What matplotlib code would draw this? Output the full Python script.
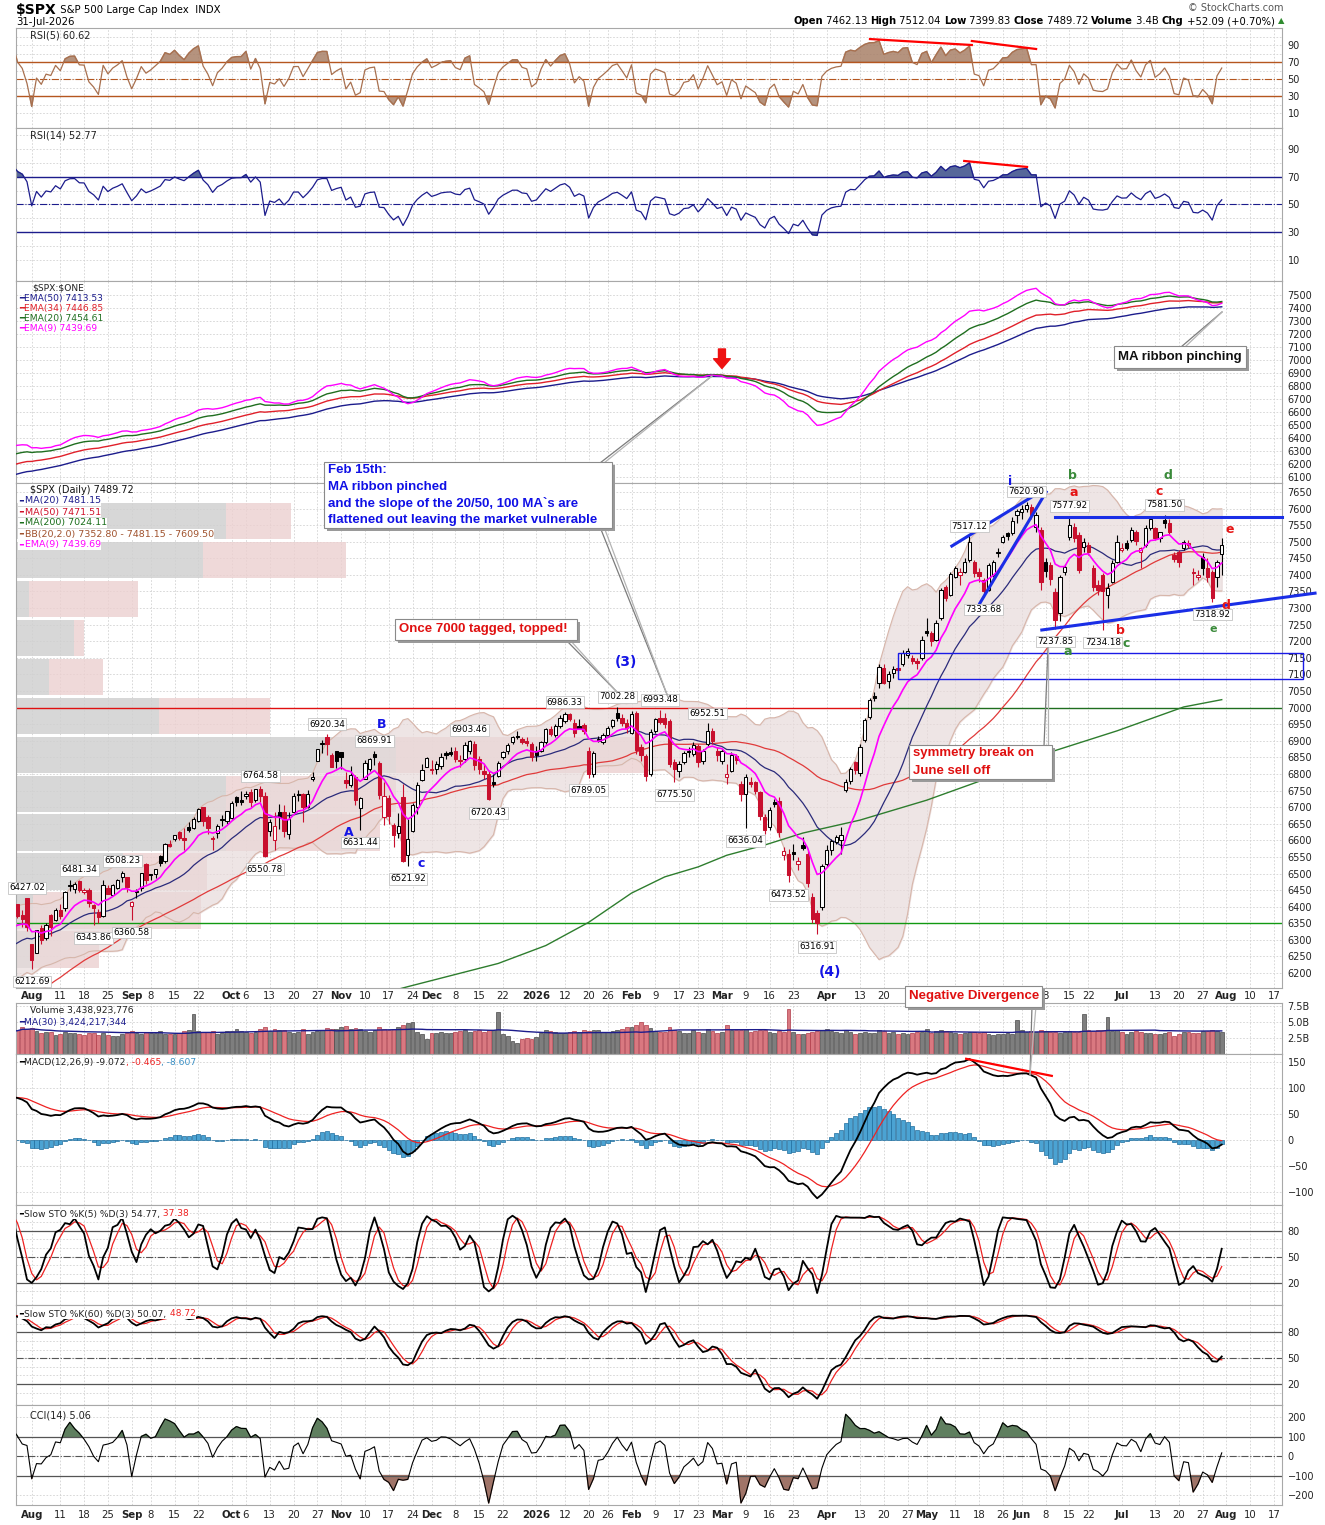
import numpy as np
import pandas as pd
import matplotlib
matplotlib.use("Agg")
import matplotlib.pyplot as plt
from matplotlib.patches import Rectangle
from matplotlib.lines import Line2D
import matplotlib.transforms as mtransforms

plt.rcParams['font.family'] = ['DejaVu Sans']

# Data -------------------------------------------------------------
HOLIDAYS = ['2025-09-01', '2025-11-27', '2025-12-25', '2026-01-01', '2026-01-19',
            '2026-02-16', '2026-04-03', '2026-05-25', '2026-06-19', '2026-07-03']

# closes before the visible window (May 1 - Jul 25 2025), only used to warm up the indicators
pre_close = [5604, 5686, 5650, 5607, 5631, 5664, 5660, 5844, 5886, 5892, 5916, 5958, 5963, 5940,
             5845, 5842, 5802, 5922, 5889, 5912, 5912, 5936, 5970, 5971, 5939, 6000, 6006, 6038,
             6022, 6045, 5977, 6033, 5983, 5981, 5967, 6025, 6092, 6092, 6141, 6173, 6205, 6198,
             6227, 6279, 6230, 6226, 6263, 6280, 6260, 6269, 6244, 6264, 6297, 6297, 6306, 6309,
             6359, 6363, 6389]

# daily (open, high, low, close)
jul25 = [(6397, 6401, 6375, 6389.8), (6409, 6409.3, 6365, 6370.9), (6374, 6389, 6338, 6362.9),
         (6427, 6427.02, 6327, 6339.4)]
aug25 = [(6287, 6288, 6212.69, 6238.0), (6261, 6330, 6261, 6329.9), (6336, 6346, 6289, 6299.2),
         (6305, 6352, 6301, 6345.1), (6375, 6379, 6312, 6340.0), (6359, 6395, 6357, 6389.5),
         (6389, 6409, 6364, 6373.5), (6397, 6446, 6386, 6445.8), (6463, 6480, 6446, 6466.6),
         (6453, 6473, 6441, 6468.5), (6478, 6481.34, 6445, 6449.8), (6445, 6455, 6437, 6449.2),
         (6449, 6456, 6400, 6411.4), (6405, 6407, 6343.86, 6395.8), (6385, 6394, 6352, 6370.2),
         (6373, 6479, 6370, 6466.9), (6457, 6466, 6438, 6439.3), (6436, 6468, 6435, 6465.9),
         (6456, 6483, 6454, 6481.4), (6489, 6508.23, 6474, 6501.9), (6491, 6491, 6444, 6460.3)]
sep25 = [(6401, 6417, 6360.58, 6415.5), (6445, 6454, 6425, 6448.3), (6456, 6502, 6446, 6502.1),
         (6530, 6532, 6469, 6481.5), (6498, 6500, 6480, 6495.2), (6500, 6513, 6486, 6512.6),
         (6553, 6555, 6523, 6532.0), (6537, 6592, 6533, 6587.5), (6590, 6601, 6579, 6584.3),
         (6603, 6616, 6598, 6615.3), (6624, 6627, 6601, 6606.8), (6608, 6638, 6570, 6600.4),
         (6641, 6656, 6624, 6632.0), (6637, 6671, 6635, 6664.4), (6657, 6699, 6656, 6693.8),
         (6700, 6700, 6642, 6656.9), (6670, 6676, 6620, 6638.0), (6606, 6613, 6570, 6604.7),
         (6621, 6650, 6608, 6643.7), (6662, 6675, 6642, 6661.2), (6658, 6689, 6648, 6688.5)]
oct25 = [(6668, 6718, 6664, 6711.2), (6731, 6734, 6703, 6715.4), (6722, 6750, 6708, 6715.8),
         (6734, 6749, 6725, 6740.3), (6747, 6755, 6700, 6714.6), (6722, 6754, 6715, 6753.7),
         (6755, 6764.58, 6717, 6735.1), (6735, 6745, 6550.78, 6552.5), (6627, 6664, 6614, 6654.7),
         (6601, 6685, 6570, 6644.3), (6686, 6710, 6633, 6671.1), (6686, 6708, 6610, 6629.1),
         (6620, 6686, 6603, 6664.0), (6686, 6744, 6681, 6735.1), (6736, 6752, 6719, 6735.4),
         (6740, 6744, 6654, 6699.4), (6701, 6751, 6697, 6738.4), (6786, 6807, 6779, 6791.7),
         (6839, 6875, 6838, 6875.2), (6890, 6901, 6863, 6890.9), (6910, 6920.34, 6857, 6890.6),
         (6857, 6863, 6821, 6822.3), (6868, 6870, 6817, 6840.2)]
nov25 = [(6865, 6866, 6816, 6852.0), (6782, 6805, 6758, 6771.6), (6766, 6824, 6762, 6796.3),
         (6792, 6796, 6708, 6720.3), (6699, 6731, 6631.44, 6728.8), (6785, 6843, 6785, 6832.4),
         (6815, 6849, 6808, 6846.6), (6861, 6869.91, 6826, 6850.9), (6833, 6838, 6724, 6737.5),
         (6670, 6775, 6646, 6734.1), (6728, 6737, 6650, 6672.4), (6646, 6652, 6581, 6617.3),
         (6623, 6683, 6607, 6642.2), (6731, 6771, 6535, 6538.8), (6555, 6664, 6521.92, 6603.0),
         (6629, 6714, 6626, 6705.1), (6700, 6777, 6678, 6765.9), (6782, 6829, 6780, 6812.6),
         (6822, 6850, 6822, 6849.1)]
dec25 = [(6812, 6843, 6800, 6812.6), (6815, 6840, 6800, 6829), (6825, 6862, 6815, 6850),
         (6862, 6868, 6845, 6857), (6866, 6880, 6855, 6860), (6870, 6880, 6835, 6846),
         (6838, 6858, 6820, 6842), (6845, 6895, 6835, 6886), (6870, 6903.46, 6860, 6898),
         (6890, 6900, 6812, 6828), (6845, 6855, 6800, 6815), (6810, 6830, 6785, 6800),
         (6800, 6810, 6720.43, 6725), (6775, 6800, 6760, 6770), (6795, 6840, 6790, 6834),
         (6850, 6870, 6845, 6866), (6868, 6892, 6860, 6888), (6895, 6915, 6890, 6910),
         (6912, 6930, 6905, 6910), (6905, 6912, 6890, 6895), (6900, 6910, 6885, 6892),
         (6890, 6895, 6840, 6850)]
jan26 = [(6870, 6885, 6840, 6858), (6870, 6900, 6865, 6895), (6895, 6940, 6890, 6935),
         (6935, 6945, 6915, 6922), (6918, 6950, 6910, 6945), (6945, 6978, 6940, 6970),
         (6960, 6986.33, 6955, 6980), (6982, 6985, 6960, 6965), (6955, 6965, 6910, 6925),
         (6945, 6965, 6935, 6940), (6948, 6955, 6920, 6930), (6870, 6880, 6789.05, 6800),
         (6800, 6870, 6790, 6862), (6905, 6915, 6895, 6900), (6895, 6925, 6890, 6918),
         (6918, 6945, 6910, 6938), (6945, 6965, 6940, 6962), (6985, 7002.28, 6960, 6970),
         (6968, 6980, 6945, 6955), (6955, 6965, 6925, 6938)]
feb26 = [(6925, 6990, 6920, 6982), (6985, 6990, 6860, 6872), (6880, 6890, 6840, 6858),
         (6855, 6860, 6780, 6795), (6800, 6935, 6795, 6928), (6930, 6970, 6925, 6965),
         (6970, 6993.48, 6950, 6958), (6968, 6985, 6940, 6950), (6960, 6965, 6820, 6830),
         (6835, 6845, 6775.50, 6815), (6810, 6840, 6790, 6830), (6835, 6870, 6830, 6862),
         (6870, 6880, 6850, 6866), (6860, 6895, 6855, 6888), (6885, 6890, 6820, 6835),
         (6840, 6875, 6830, 6870), (6890, 6952.51, 6885, 6930), (6930, 6940, 6890, 6898),
         (6870, 6880, 6840, 6858)]
mar26 = [(6840, 6875, 6830, 6868), (6790, 6830, 6770, 6800), (6810, 6865, 6805, 6858),
         (6855, 6860, 6830, 6842), (6770, 6780, 6720, 6740), (6740, 6800, 6636.04, 6792),
         (6775, 6790, 6760, 6770), (6775, 6780, 6740, 6750), (6745, 6750, 6660, 6672),
         (6670, 6680, 6620, 6632), (6640, 6700, 6630, 6692), (6715, 6725, 6700, 6710),
         (6720, 6730, 6610, 6625), (6555, 6580, 6540, 6568), (6560, 6575, 6473.52, 6495),
         (6565, 6590, 6540, 6560), (6530, 6550, 6510, 6538), (6585, 6610, 6570, 6578),
         (6560, 6570, 6460, 6472), (6430, 6440, 6350, 6362), (6380, 6390, 6316.91, 6350),
         (6400, 6530, 6390, 6522)]
apr26 = [(6530, 6585, 6520, 6572), (6570, 6605, 6555, 6598), (6595, 6615, 6590, 6610),
         (6600, 6640, 6560, 6615), (6752, 6785, 6745, 6777), (6778, 6820, 6770, 6815),
         (6835, 6840, 6800, 6812), (6803, 6890, 6795, 6880), (6902, 6970, 6895, 6963),
         (6972, 7030, 6965, 7023), (7035, 7048, 7020, 7030), (7074, 7130, 7060, 7122),
         (7118, 7130, 7070, 7075), (7080, 7110, 7060, 7100), (7105, 7125, 7090, 7115),
         (7120, 7130, 7100, 7112), (7130, 7175, 7125, 7165), (7160, 7180, 7150, 7172),
         (7150, 7160, 7130, 7140), (7140, 7150, 7115, 7135), (7150, 7215, 7145, 7205)]
may26 = [(7230, 7270, 7215, 7225), (7225, 7230, 7185, 7200), (7205, 7265, 7200, 7255),
         (7270, 7360, 7265, 7355), (7365, 7370, 7320, 7330), (7340, 7410, 7335, 7402),
         (7395, 7428, 7390, 7420), (7400, 7420, 7370, 7410), (7410, 7450, 7405, 7440),
         (7445, 7517.12, 7440, 7500), (7440, 7445, 7395, 7405), (7410, 7420, 7380, 7398),
         (7385, 7390, 7333.68, 7350), (7355, 7435, 7350, 7430), (7400, 7445, 7395, 7440),
         (7465, 7480, 7455, 7470), (7500, 7520, 7495, 7515), (7525, 7530, 7505, 7518),
         (7525, 7575, 7520, 7562), (7580, 7600, 7555, 7592)]
jun26 = [(7590, 7610, 7570, 7600), (7598, 7620.90, 7590, 7610), (7605, 7615, 7570, 7580),
         (7545, 7590, 7530, 7580), (7535, 7545, 7355, 7380), (7440, 7450, 7395, 7412),
         (7430, 7440, 7370, 7388), (7348, 7360, 7237.85, 7265), (7285, 7400, 7260, 7394),
         (7410, 7432, 7400, 7425), (7515, 7577.92, 7505, 7550), (7545, 7555, 7500, 7510),
         (7520, 7530, 7405, 7415), (7485, 7510, 7470, 7500), (7490, 7500, 7460, 7470),
         (7420, 7430, 7350, 7365), (7370, 7385, 7340, 7355), (7400, 7405, 7234.18, 7352),
         (7340, 7375, 7300, 7362), (7380, 7445, 7375, 7436), (7440, 7520, 7435, 7500)]
jul26 = [(7475, 7495, 7470, 7480), (7495, 7505, 7475, 7482), (7505, 7545, 7500, 7535),
         (7530, 7535, 7490, 7502), (7470, 7485, 7420, 7480), (7490, 7550, 7485, 7541),
         (7540, 7575, 7535, 7570), (7540, 7545, 7505, 7512), (7512, 7530, 7500, 7528),
         (7565, 7581.50, 7540, 7555), (7555, 7570, 7520, 7530), (7460, 7470, 7440, 7448),
         (7470, 7475, 7425, 7440), (7480, 7505, 7475, 7498), (7495, 7505, 7480, 7490),
         (7410, 7420, 7370, 7405), (7395, 7415, 7385, 7400), (7455, 7465, 7400, 7420),
         (7420, 7450, 7380, 7395), (7410, 7415, 7318.92, 7330), (7395, 7445, 7365, 7437.63),
         (7462.13, 7512.04, 7399.83, 7489.72)]

# daily volume, billions of shares
volume_bn = [
    3.6, 3.7, 4.3, 3.9,
    4.1, 3.6, 3.3, 3.4, 3.5, 3.0, 3.2, 3.5, 3.3, 3.3, 3.2, 3.0, 3.3, 3.3, 3.0, 3.3, 3.0, 2.8, 2.9, 3.1, 3.3,
    3.6, 3.3, 3.2, 3.4, 3.3, 3.3, 3.6, 3.2, 3.1, 3.2, 3.3, 3.6, 3.8, 6.2, 3.6, 3.5, 3.4, 3.6, 3.2, 3.3, 3.6,
    3.6, 3.9, 3.6, 3.5, 3.3, 3.5, 3.9, 4.3, 3.6, 3.9, 3.8, 3.8, 3.5, 3.3, 3.4, 3.9, 3.2, 3.4, 3.6, 3.8, 4.1, 3.9, 3.9,
    4.2, 4.4, 4.0, 4.1, 3.9, 3.6, 3.4, 3.7, 4.3, 4.0, 3.8, 3.9, 4.2, 4.5, 4.8, 5.0, 3.5, 3.2, 2.4,
    3.3, 3.3, 3.4, 3.3, 3.3, 3.5, 3.6, 3.8, 3.4, 3.6, 3.7, 3.4, 3.7, 3.7, 6.6, 3.2, 2.9, 2.0, 1.7, 2.3, 2.5, 2.4,
    2.6, 3.3, 3.7, 3.6, 3.5, 3.3, 3.3, 3.4, 3.6, 3.5, 3.8, 3.6, 3.8, 3.7, 3.5, 3.5, 3.6, 3.8, 4.0, 4.3,
    4.2, 4.6, 5.0, 4.6, 4.1, 3.6, 3.4, 3.5, 4.2, 3.7, 3.6, 3.3, 3.3, 3.7, 3.5, 3.3, 3.9, 3.6, 3.3,
    3.5, 4.5, 3.7, 3.8, 3.8, 3.9, 3.5, 3.6, 3.7, 3.8, 3.4, 3.3, 3.6, 3.4, 7.0, 3.4, 3.2, 3.1, 3.3, 3.5, 3.6, 3.8,
    3.9, 3.6, 3.5, 3.3, 3.7, 3.5, 3.2, 3.3, 3.4, 3.3, 3.3, 3.8, 3.6, 3.3, 3.4, 3.2, 3.3, 3.2, 3.3, 3.4, 3.5,
    4.0, 3.3, 3.6, 3.8, 3.6, 3.4, 3.3, 3.2, 3.3, 3.4, 3.5, 3.3, 3.4, 3.2, 3.0, 3.2, 3.2, 3.3, 3.1, 5.4,
    3.8, 3.4, 3.6, 3.5, 3.7, 3.6, 3.5, 3.5, 3.3, 3.4, 3.6, 3.4, 3.5, 6.3, 3.7, 3.6, 3.7, 3.8, 5.8, 3.6, 3.7,
    3.5, 3.2, 3.5, 3.6, 3.4, 3.3, 3.3, 3.1, 3.2, 3.3, 3.5, 2.9, 3.2, 3.4, 3.5, 3.3, 3.3, 3.6, 3.6, 3.7, 3.6, 3.44,
]

# 200-day MA (below the panel before Nov)
ma200_dates = ['2025-11-14', '2025-11-21', '2025-12-19', '2026-01-06', '2026-01-20', '2026-02-02',
               '2026-02-11', '2026-02-23', '2026-03-03', '2026-03-13', '2026-03-25', '2026-04-13',
               '2026-05-01', '2026-05-20', '2026-06-09', '2026-06-30', '2026-07-21', '2026-07-31']
ma200_vals = [6140, 6159, 6229, 6283, 6353, 6441, 6490, 6520, 6555, 6586, 6622, 6661,
              6721, 6788, 6866, 6930, 7002, 7024]

# volume-by-price zones (bottom to top), up / down volume in relative units
vbp_up = [17, 17, 107, 210, 210, 380, 143, 33, 58, 13, 187, 210]
vbp_down = [66, 168, 84, 154, 170, 249, 111, 54, 10, 109, 143, 65]

# labelled swing highs / lows
swing_dates = ['2025-07-31', '2025-08-01', '2025-08-15', '2025-08-20', '2025-08-28', '2025-09-02',
               '2025-10-09', '2025-10-10', '2025-10-29', '2025-11-07', '2025-11-12', '2025-11-21',
               '2025-12-11', '2025-12-17', '2026-01-12', '2026-01-20', '2026-01-28', '2026-02-10',
               '2026-02-13', '2026-02-25', '2026-03-09', '2026-03-20', '2026-03-30', '2026-05-14',
               '2026-05-19', '2026-06-02', '2026-06-10', '2026-06-15', '2026-06-25', '2026-07-15',
               '2026-07-29']
swing_vals = [6427.02, 6212.69, 6481.34, 6343.86, 6508.23, 6360.58, 6764.58, 6550.78, 6920.34,
              6631.44, 6869.91, 6521.92, 6903.46, 6720.43, 6986.33, 6789.05, 7002.28, 6993.48,
              6775.50, 6952.51, 6636.04, 6473.52, 6316.91, 7517.12, 7333.68, 7620.90, 7237.85,
              7577.92, 7234.18, 7581.50, 7318.92]
swing_side = ['hi', 'lo', 'hi', 'lo', 'hi', 'lo', 'hi', 'lo', 'hi', 'lo', 'hi', 'lo', 'hi', 'lo',
              'hi', 'lo', 'hi', 'hi', 'lo', 'hi', 'lo', 'lo', 'lo', 'hi', 'lo', 'hi', 'lo', 'hi',
              'lo', 'hi', 'lo']

sessions = jul25 + aug25 + sep25 + oct25 + nov25 + dec25 + jan26 + feb26 + mar26 + apr26 + may26 + jun26 + jul26
opens = np.array([s[0] for s in sessions], float)
highs = np.array([s[1] for s in sessions], float)
lows = np.array([s[2] for s in sessions], float)
closes = np.array([s[3] for s in sessions], float)
volume = np.array(volume_bn) * 1e9
n = len(sessions)
assert n == 255 and len(volume) == n, (n, len(volume))

days = pd.bdate_range('2025-07-28', '2026-08-21', freq='C', holidays=HOLIDAYS)
assert days[n - 1] == pd.Timestamp('2026-07-31')
day_index = {d.strftime('%Y-%m-%d'): i for i, d in enumerate(days)}

# Indicators -------------------------------------------------------
off = len(pre_close)
fc = pd.Series(pre_close + list(closes))
fh = pd.Series(pre_close + list(highs))
fl = pd.Series(pre_close + list(lows))


def ema(s, span):
    return s.ewm(span=span, adjust=False).mean()


def rsi(s, period):
    d = s.diff()
    up = d.clip(lower=0).ewm(alpha=1 / period, adjust=False).mean()
    dn = (-d.clip(upper=0)).ewm(alpha=1 / period, adjust=False).mean()
    return 100 - 100 / (1 + up / dn)


def slow_sto(period):
    hh = fh.rolling(period, min_periods=1).max()
    ll = fl.rolling(period, min_periods=1).min()
    fast = 100 * (fc - ll) / (hh - ll)
    k = fast.rolling(3, min_periods=1).mean()
    return k, k.rolling(3, min_periods=1).mean()


rsi5 = rsi(fc, 5).values[off:]
rsi14 = rsi(fc, 14).values[off:]
ema9 = ema(fc, 9).values[off:]
ema20 = ema(fc, 20).values[off:]
ema34 = ema(fc, 34).values[off:]
ema50 = ema(fc, 50).values[off:]
ma20 = fc.rolling(20).mean().values[off:]
ma50 = fc.rolling(50).mean().values[off:]
sd20 = fc.rolling(20).std(ddof=0).values[off:]
bb_up, bb_lo = ma20 + 2 * sd20, ma20 - 2 * sd20
macd_line = ema(fc, 12) - ema(fc, 26)
macd_sig = ema(macd_line, 9)
macd_hist = (macd_line - macd_sig).values[off:]
macd_line, macd_sig = macd_line.values[off:], macd_sig.values[off:]
k5, d5 = [a.values[off:] for a in slow_sto(5)]
k60, d60 = [a.values[off:] for a in slow_sto(60)]
tp = (fh + fl + fc) / 3
md = tp.rolling(14).apply(lambda v: np.mean(np.abs(v - v.mean())), raw=True)
cci = ((tp - tp.rolling(14).mean()) / (0.015 * md)).values[off:]
vol_ma30 = pd.Series(volume).rolling(30, min_periods=1).mean().values

x = np.arange(n)
prev_close = np.concatenate([[pre_close[-1]], closes[:-1]])
down_day = closes < prev_close

# Layout -----------------------------------------------------------
W, H = 1325, 1525
L, R = 16, 1282
X0, X1 = 0.69, 266.66
fig = plt.figure(figsize=(W / 100, H / 100), dpi=100)
fig.patch.set_facecolor('white')


def fx(px):
    return px / W


def fy(py):
    return 1 - py / H


def xpix(i):
    return L + (i - X0) / (X1 - X0) * (R - L)


# x labels: month starts and week starts
month_idx = [i for i in range(1, len(days)) if days[i].month != days[i - 1].month]
week_idx = [i for i in range(1, len(days)) if days[i].weekday() < days[i - 1].weekday()]
xlabels = []
for i in sorted(set(month_idx) | set(week_idx)):
    if i < X0 or i > X1:
        continue
    d = days[i]
    if i in month_idx:
        xlabels.append((i, str(d.year) if d.month == 1 else d.strftime('%b'), True))
    elif not any(0 < m - i <= 3 or 0 < i - m <= 2 for m in month_idx):
        xlabels.append((i, str(d.day), False))
grid_idx = [i for i, _, _ in xlabels]

GRID = dict(color='#d2d2d2', lw=0.6, ls=(0, (2, 2)), zorder=0)


def panel(top, bottom, ylim, ticks, labels=None, hgrid=None):
    ax = fig.add_axes([fx(L), fy(bottom), (R - L) / W, (bottom - top) / H])
    ax.set_xlim(X0, X1)
    ax.set_ylim(*ylim)
    ax.set_xticks([])
    ax.yaxis.tick_right()
    ax.set_yticks(ticks)
    if labels is not None:
        ax.set_yticklabels(labels)
    ax.tick_params(axis='y', length=0, pad=4, labelsize=7, colors='#222222')
    for sp in ax.spines.values():
        sp.set_color('#a8a8a8')
        sp.set_linewidth(0.8)
    for g in grid_idx:
        ax.axvline(g, **GRID)
    for t in (hgrid if hgrid is not None else ticks):
        ax.axhline(t, **GRID)
    return ax


def legend(ax, px, py, parts, size=6.6, bg=True):
    s, c = parts[0]
    kw = dict(fontsize=size, va='center', ha='left', zorder=20)
    if bg:
        kw['bbox'] = dict(fc='white', ec='none', pad=0.4)
    t = ax.text(fx(px), fy(py), s, color=c, transform=fig.transFigure, **kw)
    for s, c in parts[1:]:
        t = ax.annotate(s, xy=(1, 0.5), xycoords=t, color=c, **kw)
    return t


NAVY, RED, GREEN, MAG = '#1c1c8c', '#e0202a', '#1f6e1f', '#ff00ff'

# Panel 1: RSI(5) ----------------------------------------------------
ax1 = panel(28, 128, (-7.6, 110), [10, 30, 50, 70, 90], hgrid=[10, 20, 30, 40, 50, 60, 70, 80, 90, 100])
ax1.plot(x, rsi5, color='#a8704f', lw=0.9, zorder=3)
ax1.fill_between(x, 70, rsi5, where=rsi5 > 70, interpolate=True, color='#a88068', alpha=0.85, zorder=2)
ax1.fill_between(x, 30, rsi5, where=rsi5 < 30, interpolate=True, color='#a88068', alpha=0.85, zorder=2)
for lv in (70, 30):
    ax1.axhline(lv, color='#b5561f', lw=1.0, zorder=2)
ax1.axhline(50, color='#b5561f', lw=0.8, ls='-.', zorder=2)
ax1.plot([180.1, 201.5], [97, 90], color='red', lw=1.6, zorder=4)
ax1.plot([201.5, 215], [94.7, 85.3], color='red', lw=1.6, zorder=4)
legend(ax1, 30, 35, [('RSI(5) 60.62', '#222222')], size=7, bg=False)

# Panel 2: RSI(14) ---------------------------------------------------
ax2 = panel(128, 281, (-5, 105), [10, 30, 50, 70, 90], hgrid=[10, 20, 30, 40, 50, 60, 70, 80, 90, 100])
ax2.plot(x, rsi14, color=NAVY, lw=0.9, zorder=3)
ax2.fill_between(x, 70, rsi14, where=rsi14 > 70, interpolate=True, color='#56679a', zorder=2)
ax2.fill_between(x, 30, rsi14, where=rsi14 < 30, interpolate=True, color='#56679a', zorder=2)
for lv in (70, 30):
    ax2.axhline(lv, color=NAVY, lw=1.0, zorder=2)
ax2.axhline(50, color=NAVY, lw=0.8, ls='-.', zorder=2)
ax2.plot([199.9, 213.1], [81.3, 77.0], color='red', lw=1.6, zorder=4)
legend(ax2, 30, 136, [('RSI(14) 52.77', '#222222')], size=7, bg=False)

# Panel 3: EMA ribbon ------------------------------------------------
ax3 = panel(281, 483, (6054, 7608), list(range(6100, 7501, 100)))
ax3.plot(x, ema50, color=NAVY, lw=1.0, zorder=3)
ax3.plot(x, ema34, color=RED, lw=1.0, zorder=3)
ax3.plot(x, ema20, color=GREEN, lw=1.0, zorder=3)
ax3.plot(x, ema9, color=MAG, lw=1.0, zorder=3)
ax3.annotate('', xy=(149, 6935), xytext=(149, 7085),
             arrowprops=dict(facecolor='#ee1111', edgecolor='#ee1111', width=5, headwidth=12, headlength=7))
legend(ax3, 32, 288, [('\\$SPX:\\$ONE', '#222222')], bg=False)
for k, (txt, col) in enumerate([('EMA(50) 7413.53', NAVY), ('EMA(34) 7446.85', RED),
                                ('EMA(20) 7454.61', GREEN), ('EMA(9) 7439.69', MAG)]):
    legend(ax3, 19, 298 + 10 * k, [('━', col), (txt, col)], bg=False)

# Panel 4: price -----------------------------------------------------
ax4 = panel(483, 988, (6155, 7677), list(range(6200, 7651, 50)))
blend = mtransforms.blended_transform_factory(ax4.transAxes, ax4.transData)
pmin, pmax = lows.min(), highs.max()
step = (pmax - pmin) / len(vbp_up)
scale = 1.0 / (R - L)
for k, (u, d) in enumerate(zip(vbp_up, vbp_down)):
    y0 = pmin + k * step + 4
    ax4.add_patch(Rectangle((0, y0), u * scale, step - 8, transform=blend, fc='#d0d0d0', ec='none', alpha=0.85, zorder=1))
    ax4.add_patch(Rectangle((u * scale, y0), d * scale, step - 8, transform=blend, fc='#ecd0d0', ec='none', alpha=0.8, zorder=1))

ax4.fill_between(x, bb_lo, bb_up, color='#e8dada', alpha=0.7, zorder=1.5)
ax4.plot(x, bb_up, color='#d7b6aa', lw=0.8, zorder=1.6)
ax4.plot(x, bb_lo, color='#d7b6aa', lw=0.8, zorder=1.6)
ma200_x = [day_index[d] for d in ma200_dates]
ax4.plot(ma200_x, ma200_vals, color='#2e7d2e', lw=1.0, zorder=3)
ax4.plot(x, ma50, color='#e03a3a', lw=0.9, zorder=3)
ax4.plot(x, ma20, color='#2a2a7a', lw=0.9, zorder=3)
ax4.plot(x, ema9, color=MAG, lw=1.2, zorder=6)

ax4.plot([X0, 180], [7000, 7000], color='#e01010', lw=1.0, zorder=2.5)
ax4.plot([180, X1], [7000, 7000], color='#1f6e1f', lw=1.0, zorder=2.5)
ax4.axhline(6350, color='#119911', lw=1.0, zorder=2.5)

for i in range(n):
    o, h, lo, c = opens[i], highs[i], lows[i], closes[i]
    col = '#c8102e' if down_day[i] else 'black'
    ax4.vlines(i, lo, h, color=col, lw=0.8, zorder=4)
    b0, b1 = min(o, c), max(o, c)
    if b1 - b0 < 3:
        b1 = b0 + 3
    face = 'white' if c >= o else col
    ax4.add_patch(Rectangle((i - 0.35, b0), 0.7, b1 - b0, fc=face, ec=col, lw=0.75, zorder=5))

for d, v, side in zip(swing_dates, swing_vals, swing_side):
    yy = v + 30 if side == 'hi' else v - 38
    ax4.text(day_index[d], yy, f'{v:.2f}', fontsize=6.3, ha='center', va='center', zorder=8,
             bbox=dict(boxstyle='square,pad=0.15', fc='white', ec='#c4c4c4', lw=0.6))

BLUE, WRED, WGREEN = '#1414e6', '#e61414', '#3a8a3a'
trend = dict(color='#1a2ee6', lw=2.2, zorder=7, clip_on=False)
ax4.plot([197.3, 214.1], [7487, 7635], **trend)
ax4.plot([203.2, 217.1], [7315, 7650], **trend)
ax4.plot([219.0, X1], [7575, 7575], **trend)
ax4.plot([216.2, 273.6], [7234, 7345], **trend)
ax4.add_patch(Rectangle((186.0, 7086), 85.0, 79, fc='none', ec='#1a1ae6', lw=1.0, zorder=7, clip_on=False))

waves = [('A', BLUE, 70.6, 6625, 9), ('B', BLUE, 77.6, 6950, 9), ('c', BLUE, 85.8, 6531, 9),
         ('(3)', BLUE, 128.8, 7137, 10), ('(4)', BLUE, 171.7, 6203, 10), ('i', BLUE, 209.5, 7683, 9),
         ('b', WGREEN, 222.7, 7701, 9), ('d', WGREEN, 242.7, 7701, 9), ('a', WRED, 223.0, 7647, 9),
         ('c', WRED, 240.8, 7650, 9), ('e', WRED, 255.7, 7538, 9), ('d', WRED, 254.9, 7309, 9),
         ('a', WGREEN, 221.6, 7168, 9), ('b', WRED, 232.8, 7231, 9), ('c', WGREEN, 233.9, 7192, 9),
         ('e', WGREEN, 252.2, 7238, 8)]
for t, col, xi, yv, fs in waves:
    ax4.text(xi, yv, t, color=col, fontsize=fs, fontweight='bold', ha='center', va='center',
             zorder=9, clip_on=False)

legend(ax4, 30, 490, [('\\$SPX (Daily) 7489.72', '#111111')], size=7)
for k, (txt, col) in enumerate([('MA(20) 7481.15', NAVY), ('MA(50) 7471.51', '#d0102a'),
                                ('MA(200) 7024.11', '#1a6e1a'),
                                ('BB(20,2.0) 7352.80 - 7481.15 - 7609.50', '#a0522d'),
                                ('EMA(9) 7439.69', MAG)]):
    legend(ax4, 19, 501 + 11 * k, [('━', col), (txt, col)], size=6.8)

# Panel 5: volume ----------------------------------------------------
ax5 = panel(1003, 1054, (0, 8.0e9), [2.5e9, 5.0e9, 7.5e9], ['2.5B', '5.0B', '7.5B'])
ax5.bar(x, volume, width=0.8, color=np.where(down_day, '#d97880', '#7e7e7e'),
        edgecolor=np.where(down_day, '#b03a48', '#4a4a4a'), lw=0.5, zorder=2)
ax5.plot(x, vol_ma30, color=NAVY, lw=1.0, zorder=3)
legend(ax5, 30, 1011, [('Volume 3,438,923,776', '#222222')], bg=False)
legend(ax5, 19, 1022, [('━', NAVY), ('MA(30) 3,424,217,344', NAVY)], bg=False)

# Panel 6: MACD ------------------------------------------------------
ax6 = panel(1054, 1205, (-125, 165), [-100, -50, 0, 50, 100, 150])
ax6.bar(x, macd_hist, width=0.85, color='#4ba3d3', edgecolor='#1f6d9e', lw=0.5, zorder=2)
ax6.plot(x, macd_sig, color='#ee2222', lw=0.9, zorder=3)
ax6.plot(x, macd_line, color='black', lw=1.3, zorder=4)
ax6.plot([200.3, 218.3], [155.8, 123], color='red', lw=1.6, zorder=5)
legend(ax6, 19, 1062, [('━', 'black'), ('MACD(12,26,9) -9.072', '#222222'), (', -0.465', '#ee2222'),
                       (', -8.607', '#3a8fc4')], bg=False)

# Panels 7-8: slow stochastics ----------------------------------------
for top, bottom, ylim, k, d, txt in [(1205, 1305, (-5.8, 109.6), k5, d5, ('Slow STO %K(5) %D(3) 54.77,', ' 37.38')),
                                     (1305, 1405, (-4.3, 111.6), k60, d60, ('Slow STO %K(60) %D(3) 50.07,', ' 48.72'))]:
    ax = panel(top, bottom, ylim, [20, 50, 80], hgrid=[10, 20, 30, 40, 50, 60, 70, 80, 90, 100])
    for lv in (80, 20):
        ax.axhline(lv, color='#555555', lw=0.9, zorder=2)
    ax.axhline(50, color='#555555', lw=0.8, ls='-.', zorder=2)
    ax.plot(x, d, color='#ee2222', lw=0.9, zorder=3)
    ax.plot(x, k, color='black', lw=1.3, zorder=4)
    legend(ax, 19, top + 9, [('━', 'black'), (txt[0], '#222222'), (txt[1], '#ee2222')])

# Panel 9: CCI -------------------------------------------------------
ax9 = panel(1405, 1505, (-251, 262), [-200, -100, 0, 100, 200])
ax9.plot(x, cci, color='black', lw=0.8, zorder=3)
ax9.fill_between(x, 100, cci, where=cci > 100, interpolate=True, color='#5f7f5f', zorder=2)
ax9.fill_between(x, -100, cci, where=cci < -100, interpolate=True, color='#a07468', zorder=2)
for lv in (100, -100):
    ax9.axhline(lv, color='#555555', lw=0.9, zorder=2)
ax9.axhline(0, color='#555555', lw=0.8, ls='-.', zorder=2)
legend(ax9, 30, 1415, [('CCI(14) 5.06', '#222222')], size=7, bg=False)

# x axis labels (two strips); the middle strip is partly covered by a callout
for ystrip in (996, 1515):
    for i, t, bold in xlabels:
        xp = xpix(i)
        if ystrip == 996 and 895 < xp < 1040:
            continue
        fig.text(fx(xp), fy(ystrip), t, fontsize=7.3, ha='center', va='center',
                 fontweight='bold' if bold else 'normal', color='#222222')

# Header -------------------------------------------------------------
t = ax1.text(fx(16), fy(10), '\\$SPX', transform=fig.transFigure, fontsize=10, fontweight='bold', va='center')
ax1.annotate(' S&P 500 Large Cap Index  INDX', xy=(1, 0.5), xycoords=t, fontsize=7.3, va='center')
ax1.text(fx(16), fy(22), '31-Jul-2026', transform=fig.transFigure, fontsize=7.3, va='center')
ax1.text(fx(1283), fy(8), '© StockCharts.com', transform=fig.transFigure, fontsize=7, va='center',
         ha='right', color='#555555')
parts = [('Open', 1), (' 7462.13 ', 0), ('High', 1), (' 7512.04 ', 0), ('Low', 1), (' 7399.83 ', 0),
         ('Close', 1), (' 7489.72 ', 0), ('Volume', 1), (' 3.4B ', 0), ('Chg', 1), (' +52.09 (+0.70%) ', 0)]
t = ax1.text(fx(793), fy(21), parts[0][0], transform=fig.transFigure, fontsize=7.2, fontweight='bold', va='center')
for s, b in parts[1:]:
    t = ax1.annotate(s, xy=(1, 0.5), xycoords=t, fontsize=7.2, va='center',
                     fontweight='bold' if b else 'normal')
ax1.annotate('▲', xy=(1, 0.5), xycoords=t, fontsize=6, va='center', color='#2e8b2e')


# Callouts -----------------------------------------------------------
def pointer(x0, y0, x1, y1):
    for dx, col in ((0, '#7c7c7c'), (4, '#b4b4b4')):
        fig.add_artist(Line2D([fx(x0 + dx), fx(x1)], [fy(y0), fy(y1)], color=col, lw=0.9, zorder=30))


def callout(x0, y0, x1, y1, lines, color, size=9.5):
    fig.add_artist(Rectangle((fx(x0 + 3), fy(y1 + 3)), (x1 - x0) / W, (y1 - y0) / H,
                             transform=fig.transFigure, fc='#9a9a9a', ec='none', zorder=31))
    fig.add_artist(Rectangle((fx(x0), fy(y1)), (x1 - x0) / W, (y1 - y0) / H,
                             transform=fig.transFigure, fc='white', ec='#8a8a8a', lw=0.8, zorder=32))
    lh = (y1 - y0) / len(lines)
    for k, s in enumerate(lines):
        fig.text(fx(x0 + 4), fy(y0 + lh * (k + 0.5)), s, color=color, fontsize=size, fontweight='bold',
                 va='center', ha='left', zorder=33,
                 family=['Liberation Sans Narrow', 'Liberation Sans', 'DejaVu Sans'])


pointer(600, 463, 712, 376)
pointer(600, 527, 668, 697)
callout(324, 462, 612, 528, ['Feb 15th:', 'MA ribbon pinched', 'and the slope of the 20/50, 100 MA`s are',
                             'flattened out leaving the market vulnerable'], '#1010e6')
pointer(566, 640, 617, 692)
callout(395, 619, 577, 640, ['Once 7000 tagged, topped!'], '#e01010')
pointer(1044, 746, 1048, 648)
callout(909, 745, 1052, 779, ['symmetry break on', 'June sell off'], '#e01010')
pointer(1181, 347, 1222, 312)
callout(1114, 346, 1246, 368, ['MA ribbon pinching'], '#111111')
pointer(1032, 1006, 1030, 1075)
callout(905, 986, 1042, 1007, ['Negative Divergence'], '#e01010')

fig.savefig('out.png', dpi=100)
